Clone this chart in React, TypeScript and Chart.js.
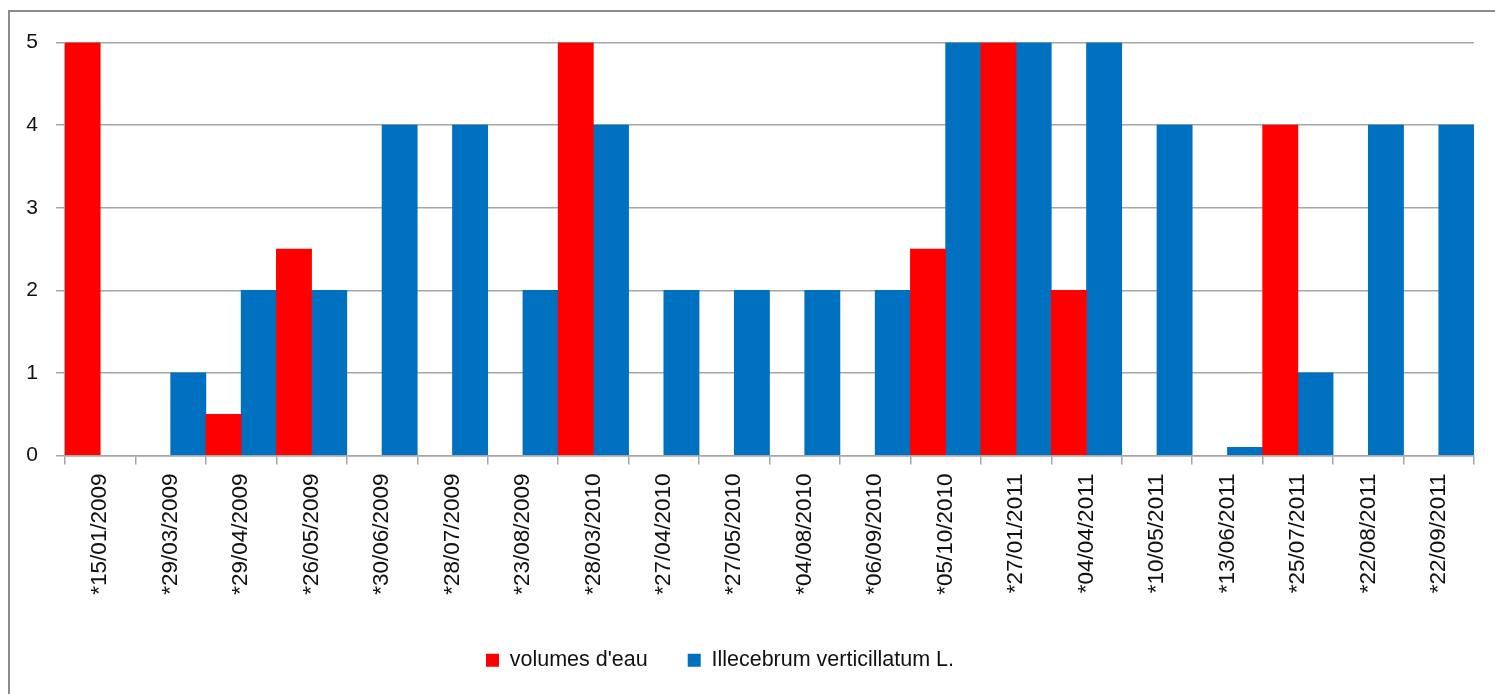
import React, { useEffect, useRef } from "react";
import { Chart, registerables } from "chart.js";

Chart.register(...registerables);

const categories = [
  "*15/01/2009", "*29/03/2009", "*29/04/2009", "*26/05/2009", "*30/06/2009",
  "*28/07/2009", "*23/08/2009", "*28/03/2010", "*27/04/2010", "*27/05/2010",
  "*04/08/2010", "*06/09/2010", "*05/10/2010", "*27/01/2011", "*04/04/2011",
  "*10/05/2011", "*13/06/2011", "*25/07/2011", "*22/08/2011", "*22/09/2011",
];
const volumesEau = [5, 0, 0.5, 2.5, 0, 0, 0, 5, 0, 0, 0, 0, 2.5, 5, 2, 0, 0, 4, 0, 0];
const illecebrum = [0, 1, 2, 2, 4, 4, 2, 4, 2, 2, 2, 2, 5, 5, 5, 4, 0.1, 1, 4, 4];
const yTicks = [0, 1, 2, 3, 4, 5];

const FONT = "'Liberation Sans', Arial, sans-serif";
const GRID = "#a6a6a6";
const RED = "#ff0000";
const BLUE = "#0070c0";

const fill = (color: string) => (ctx: any) => (ctx.raw === 0 ? "rgba(0,0,0,0)" : color);

const legendShift = {
  id: "legendShift",
  afterLayout(chart: any) {
    if (chart.legend) chart.legend.right -= 44;
  },
};

export default function App() {
  const ref = useRef<HTMLCanvasElement | null>(null);
  useEffect(() => {
    if (!ref.current) return;
    const chart = new Chart(ref.current, {
      type: "bar",
      data: {
        labels: categories,
        datasets: [
          { label: "volumes d'eau", data: volumesEau, backgroundColor: fill(RED) as any, borderWidth: 0 },
          { label: "Illecebrum verticillatum L.", data: illecebrum, backgroundColor: fill(BLUE) as any, borderWidth: 0 },
        ],
      },
      plugins: [legendShift],
      options: {
        animation: false,
        responsive: false,
        maintainAspectRatio: false,
        layout: { padding: { top: 29, left: 0, right: 21, bottom: 0 } },
        datasets: { bar: { categoryPercentage: 1, barPercentage: 1 } },
        plugins: {
          tooltip: { enabled: false },
          legend: {
            position: "bottom",
            labels: {
              boxWidth: 13,
              boxHeight: 13,
              padding: 40,
              color: "#111",
              font: { family: FONT, size: 21.5 },
              generateLabels: (c: any) =>
                c.data.datasets.map((d: any, i: number) => ({
                  text: d.label,
                  fillStyle: i === 0 ? RED : BLUE,
                  strokeStyle: i === 0 ? RED : BLUE,
                  lineWidth: 0,
                  hidden: false,
                  datasetIndex: i,
                  fontColor: "#111",
                })),
            },
          },
        },
        scales: {
          x: {
            offset: true,
            grid: {
              offset: true,
              drawOnChartArea: false,
              drawTicks: true,
              tickLength: 9,
              color: GRID,
              lineWidth: 1.5,
            },
            border: { color: GRID, width: 1.5 },
            ticks: {
              minRotation: 90,
              maxRotation: 90,
              autoSkip: false,
              padding: 9,
              color: "#111",
              font: { family: FONT, size: 22.5 },
            },
            afterFit: (s: any) => { s.height = 154; },
          },
          y: {
            min: 0,
            max: 5,
            afterBuildTicks: (s: any) => { s.ticks = yTicks.map((v) => ({ value: v })); },
            grid: { color: GRID, lineWidth: 1.5, tickLength: 9 },
            border: { color: GRID, width: 1.5 },
            ticks: {
              padding: 18,
              color: "#111",
              font: { family: FONT, size: 21 },
            },
            afterFit: (s: any) => { s.width = 55; },
          },
        },
      },
    });
    return () => chart.destroy();
  }, []);
  return (
    <div
      style={{
        position: "fixed",
        left: 8,
        top: 10,
        width: 1487,
        height: 700,
        borderTop: "2px solid #8c8c8c",
        borderLeft: "2px solid #8c8c8c",
        background: "#fff",
      }}
    >
      <canvas ref={ref} width={1485} height={669} style={{ display: "block" }} />
    </div>
  );
}
